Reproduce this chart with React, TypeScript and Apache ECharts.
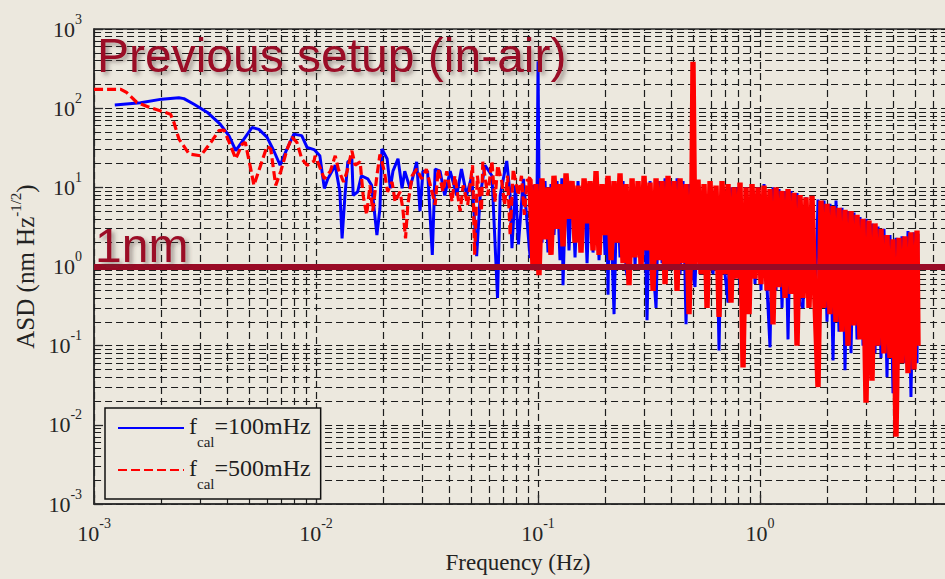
import React, { useEffect, useRef } from "react";
import * as echarts from "echarts";

// ---------- axis ranges ----------
const X_MIN = 0.001;
const X_MAX = 10;
const Y_MIN = 0.001;
const Y_MAX = 1000;
const ONE_NM = 1;

// minor grid multipliers and decades
const MINOR_MULT = [2, 3, 4, 5, 6, 7, 8, 9];
const X_DECADES = [0.001, 0.01, 0.1, 1];
const Y_DECADES = [0.001, 0.01, 0.1, 1, 10, 100];

const BLUE_NAME = "f_cal=100mHz";
const RED_NAME = "f_cal=500mHz";

// ---------- blue series (f_cal = 100 mHz) : [frequency Hz, ASD] ----------
const blueLow: [number, number][] = [
  [0.00124, 110], [0.00162, 117], [0.00202, 130], [0.00241, 135], [0.00254, 132], [0.00282, 112],
  [0.00323, 89], [0.0037, 63], [0.00405, 45], [0.00435, 29], [0.00474, 41], [0.00515, 57],
  [0.00553, 54], [0.00601, 43], [0.00645, 29], [0.00689, 19], [0.0073, 28], [0.00794, 47],
  [0.00862, 45], [0.00911, 32], [0.0098, 30], [0.0104, 25], [0.0109, 9.7], [0.0113, 12.8],
  [0.0122, 19], [0.0128, 8.8], [0.0131, 2.27], [0.0135, 7.9], [0.0139, 21], [0.0145, 23],
  [0.0147, 7.9], [0.0154, 8.8], [0.016, 14], [0.0171, 12.8], [0.0178, 10.6], [0.0188, 2.5],
  [0.0194, 5.4], [0.0198, 30.5], [0.0209, 23], [0.0216, 9.7], [0.0222, 16], [0.0234, 23],
  [0.0244, 9.7], [0.0251, 16], [0.0265, 9.7], [0.0284, 21], [0.0294, 5], [0.0303, 16],
  [0.0318, 16], [0.0334, 1.4], [0.0344, 17], [0.0362, 16], [0.038, 7.9], [0.0402, 16],
  [0.043, 7.9], [0.0452, 17], [0.0477, 7.9], [0.0503, 14], [0.0529, 1.35], [0.0549, 7.9],
  [0.0577, 19], [0.062, 14], [0.0657, 0.4], [0.0675, 7.9], [0.0723, 21.5], [0.0749, 7.9],
  [0.0763, 1.7], [0.0791, 10.6], [0.0816, 1.9], [0.0859, 12.8],
];

const blueHigh: [number, number][] = [
  [0.0922, 1.28], [0.095, 10.6], [0.099, 9], [0.1, 390], [0.101, 12], [0.1042, 2.0],
  [0.1075, 12], [0.1109, 1.5], [0.1144, 11], [0.118, 2.5], [0.1218, 12], [0.1256, 1.2],
  [0.128, 13], [0.1296, 0.58], [0.1337, 13], [0.1379, 1.6], [0.1423, 11], [0.1468, 1.3],
  [0.1514, 12], [0.1562, 2.0], [0.1612, 11], [0.1663, 1.1], [0.1715, 12], [0.1769, 1.5],
  [0.1825, 11], [0.1883, 1.2], [0.1943, 11], [0.2004, 1.4], [0.2035, 11], [0.2067, 0.44],
  [0.21, 12], [0.22, 0.25], [0.227, 11], [0.2341, 1.3], [0.2415, 12], [0.2492, 0.9],
  [0.257, 0.6], [0.2652, 11], [0.2736, 1.0], [0.2822, 12], [0.2911, 1.2], [0.3003, 13],
  [0.3098, 0.21], [0.3196, 12], [0.3297, 1.0], [0.3401, 0.3], [0.3509, 12], [0.362, 1.1],
  [0.3734, 13], [0.3852, 0.9], [0.3974, 12], [0.41, 1.0], [0.4229, 13], [0.4363, 0.8],
  [0.4501, 12], [0.4642, 0.186], [0.4789, 11], [0.494, 0.9], [0.5097, 0.55], [0.5258, 11],
  [0.5424, 0.8], [0.5595, 11], [0.5772, 0.7], [0.5955, 10.5], [0.6143, 0.8], [0.6337, 10],
  [0.6537, 0.087], [0.6744, 10.5], [0.6957, 0.8], [0.7177, 0.35], [0.7404, 10], [0.7638, 0.7],
  [0.7879, 10], [0.8128, 0.6], [0.8385, 0.15], [0.865, 10], [0.8923, 0.4], [0.9205, 10],
  [0.9495, 0.6], [0.9795, 10], [1.0104, 0.5], [1.0424, 11], [1.0753, 0.55], [1.1093, 0.095],
  [1.1444, 10], [1.1806, 0.5], [1.2179, 9.5], [1.2564, 0.3], [1.2961, 9], [1.3371, 0.12],
  [1.3793, 9], [1.4229, 0.45], [1.4678, 8.5], [1.5142, 0.35], [1.5621, 0.3], [1.6114, 7.5],
  [1.6624, 0.3], [1.7149, 7.5], [1.7691, 0.25], [1.825, 7], [1.8827, 0.3], [1.9422, 6.8],
  [2.0036, 0.2], [2.0669, 6.2], [2.1322, 0.065], [2.1996, 6.8], [2.2691, 0.15], [2.3408, 5.5],
  [2.4148, 0.049], [2.4911, 5], [2.5698, 0.08], [2.651, 4.8], [2.7348, 0.12], [2.8212, 4.2],
  [2.9104, 0.1], [3.0023, 4], [3.0972, 0.09], [3.1951, 3.5], [3.2961, 0.08], [3.4002, 3.2],
  [3.5077, 0.07], [3.6186, 3.0], [3.7329, 0.04], [3.8509, 2.5], [3.9726, 0.025], [4.0982, 2.3],
  [4.2277, 0.07], [4.3613, 2.4], [4.4991, 0.06], [4.6416, 2.8], [4.7863, 0.0225], [4.9397, 2.7],
  [5.0955, 0.06], [5.15, 2.6],
];

// ---------- red series (f_cal = 500 mHz) ----------
const redLow: [number, number][] = [
  [0.001, 173], [0.00132, 173], [0.0014, 158], [0.00156, 118], [0.00177, 103], [0.002, 92],
  [0.00221, 84], [0.00229, 66], [0.00241, 41], [0.00268, 26.4], [0.00302, 25], [0.00336, 37],
  [0.00365, 52], [0.00385, 53], [0.00413, 33], [0.00435, 23], [0.00465, 35], [0.0048, 37],
  [0.00508, 17], [0.00525, 10.6], [0.00563, 19], [0.00601, 33], [0.00625, 30.5], [0.00658, 10.6],
  [0.00694, 16], [0.0074, 30], [0.00779, 43], [0.0082, 37], [0.00862, 23], [0.00911, 19],
  [0.0098, 21.5], [0.0099, 25], [0.0104, 18], [0.0109, 12.8], [0.0116, 16], [0.0122, 25],
  [0.0126, 17], [0.0133, 11.7], [0.0138, 16], [0.0145, 29], [0.015, 19], [0.0158, 21],
  [0.0163, 7.9], [0.0169, 4.5], [0.0175, 10.6], [0.018, 5], [0.0188, 14], [0.0194, 26],
  [0.0203, 16], [0.021, 8.8], [0.022, 11.7], [0.0227, 6.6], [0.0239, 8.8], [0.0246, 5.4],
  [0.0253, 2.27], [0.0259, 6], [0.0271, 14], [0.0284, 17], [0.0299, 12.8], [0.0314, 17],
  [0.033, 9.7], [0.0344, 6], [0.0355, 17], [0.0373, 8.8], [0.0388, 16], [0.041, 6.6],
  [0.0422, 14], [0.0446, 5], [0.046, 10.6], [0.0482, 6], [0.0507, 19], [0.0518, 1.4],
  [0.0533, 14], [0.0556, 5], [0.0564, 21], [0.0593, 7.9], [0.062, 21.5], [0.0639, 6.6],
  [0.0658, 19], [0.0687, 11.7], [0.0707, 6], [0.0729, 14], [0.0749, 2.5], [0.0773, 17],
  [0.0816, 7.9], [0.0842, 14], [0.0868, 4.5], [0.0895, 12.8],
];

const redHigh: [number, number][] = [
  [0.092, 12.5], [0.095, 0.9], [0.0979, 11], [0.101, 0.78], [0.1042, 13], [0.1075, 2.2],
  [0.1109, 10], [0.1144, 1.4], [0.118, 14], [0.1218, 3.0], [0.1256, 11], [0.1296, 1.8],
  [0.1337, 15], [0.1379, 4.0], [0.1423, 12], [0.1468, 2.0], [0.1514, 10.5], [0.1562, 1.5],
  [0.1612, 13], [0.1663, 3.5], [0.1715, 12], [0.1769, 1.6], [0.1825, 16], [0.1883, 1.4],
  [0.1943, 11], [0.2004, 2.5], [0.2067, 14], [0.2133, 1.2], [0.22, 12], [0.227, 2.0],
  [0.2341, 15], [0.2415, 1.1], [0.2492, 11], [0.257, 0.58], [0.2652, 13], [0.2736, 1.3],
  [0.2822, 12], [0.2911, 1.0], [0.3003, 14], [0.3098, 1.6], [0.3196, 11.5], [0.3297, 0.49],
  [0.3401, 13], [0.3509, 1.2], [0.362, 12], [0.3734, 0.6], [0.3852, 14], [0.3974, 1.0],
  [0.41, 12], [0.4229, 0.49], [0.4363, 13], [0.4501, 1.1], [0.4642, 11], [0.4789, 0.25],
  [0.494, 12], [0.499, 385], [0.5097, 1.0], [0.5258, 12.5], [0.5424, 0.8], [0.5595, 11],
  [0.5772, 0.3], [0.5955, 12], [0.6143, 0.9], [0.6337, 10.5], [0.6537, 0.23], [0.6744, 12],
  [0.6957, 0.8], [0.7177, 11], [0.7404, 0.35], [0.7638, 10], [0.7879, 0.7], [0.8128, 11.5],
  [0.8385, 0.053], [0.865, 10], [0.8923, 0.25], [0.9205, 11], [0.9495, 0.7], [0.9795, 10],
  [1.0104, 0.6], [1.0424, 10.5], [1.0753, 0.5], [1.1093, 9.5], [1.1444, 0.185], [1.1806, 10],
  [1.2179, 0.55], [1.2564, 9], [1.2961, 0.4], [1.3371, 9.5], [1.3793, 0.45], [1.4229, 8.5],
  [1.4678, 0.1], [1.5142, 8], [1.5621, 0.4], [1.6114, 7.5], [1.6624, 0.3], [1.7149, 7.8],
  [1.7691, 0.35], [1.825, 0.03], [1.8827, 6.8], [1.9422, 0.3], [2.0036, 6.2], [2.0669, 0.25],
  [2.1322, 5.8], [2.1996, 0.2], [2.2691, 5.5], [2.3408, 0.15], [2.4148, 5.2], [2.4911, 0.1],
  [2.5698, 5], [2.651, 0.18], [2.7348, 4.5], [2.8212, 0.12], [2.9104, 4], [3.0023, 0.019],
  [3.0972, 3.8], [3.1951, 0.036], [3.2961, 3.5], [3.4002, 0.1], [3.5077, 3], [3.6186, 0.08],
  [3.7329, 2.5], [3.8509, 0.07], [3.9726, 2.2], [4.0982, 0.0071], [4.2277, 2.3], [4.3613, 0.06],
  [4.4991, 2.4], [4.6416, 0.045], [4.7863, 2.7], [4.9397, 0.05], [5.0955, 2.85], [5.15, 0.1],
];

const BG = "#ece8de";
const SERIF = "'Liberation Serif', 'DejaVu Serif', serif";
const SANS = "'Liberation Sans', Arial, sans-serif";
const DARK_RED = "#9b0b28";
const CHART_W = 1000; // plot continues past the right edge of the 945px view
const CHART_H = 579;

export default function App() {
  const ref = useRef<HTMLDivElement>(null);

  useEffect(() => {
    if (!ref.current) return;
    const chart = echarts.init(ref.current, null, { renderer: "svg" });

    const gridDash = { type: [7, 4] as number[], color: "#1c1c1c", width: 1.2, opacity: 1 };

    const minorX = X_DECADES.flatMap((d) => MINOR_MULT.map((m) => +(m * d).toPrecision(3)));
    const minorY = Y_DECADES.flatMap((d) => MINOR_MULT.map((m) => +(m * d).toPrecision(3)));
    const minorSegs = [
      ...minorX.map((v) => ({ coords: [[v, Y_MIN], [v, Y_MAX]] })),
      ...minorY.map((v) => ({ coords: [[X_MIN, v], [X_MAX, v]] })),
    ];

    const labelRich = {
      b: { fontFamily: SERIF, fontSize: 22, lineHeight: 34, color: "#252525" },
      e: { fontFamily: SERIF, fontSize: 14, lineHeight: 14, verticalAlign: "top", color: "#252525" },
    };
    const fmt = (v: number) => `{b|10}{e|${Math.round(Math.log10(v))}}`;

    const titleStyle = {
      color: DARK_RED,
      fontFamily: SANS,
      fontSize: 48,
      fontWeight: "normal",
      textShadowColor: "rgba(70,50,50,0.45)",
      textShadowBlur: 4,
      textShadowOffsetX: 3,
      textShadowOffsetY: 3,
    };

    chart.setOption({
      animation: false,
      backgroundColor: BG,
      title: [
        { text: "Previous setup (in-air)", left: 97, top: 31, padding: 0, textStyle: titleStyle },
        { text: "1nm", left: 95, top: 221, padding: 0, textStyle: titleStyle },
      ],
      grid: {
        left: 94,
        right: CHART_W - 982,
        top: 29,
        bottom: 71,
        show: true,
        borderColor: "#2a2a2a",
        borderWidth: 1.5,
        backgroundColor: "transparent",
      },
      legend: {
        data: [BLUE_NAME, RED_NAME],
        orient: "vertical",
        left: 105,
        top: 408,
        padding: [6, 10, 8, 12],
        itemGap: 7,
        itemWidth: 66,
        itemHeight: 14,
        backgroundColor: BG,
        borderColor: "#111",
        borderWidth: 1.5,
        selectedMode: false,
        itemStyle: { opacity: 0 },
        formatter: (name: string) => {
          const rest = name.replace("f_cal", "");
          return `{f|f}{s|cal}{f|${rest}}`;
        },
        textStyle: {
          rich: {
            f: { fontFamily: SERIF, fontSize: 24, lineHeight: 28, verticalAlign: "top", color: "#1e1e1e" },
            s: { fontFamily: SERIF, fontSize: 15, lineHeight: 15, padding: [20, 0, 0, 0], verticalAlign: "top", color: "#1e1e1e" },
          },
        },
      },
      xAxis: {
        type: "log",
        logBase: 10,
        min: X_MIN,
        max: X_MAX,
        name: "Frequency (Hz)",
        nameLocation: "middle",
        nameGap: 47,
        nameTextStyle: { fontFamily: SERIF, fontSize: 23, color: "#222", padding: [0, 40, 0, 0] },
        axisLine: { lineStyle: { color: "#2a2a2a", width: 1.5 } },
        axisTick: { inside: true, length: 9, lineStyle: { color: "#2a2a2a", width: 1.3 } },
        axisLabel: { formatter: fmt, rich: labelRich, margin: 12, showMinLabel: true, showMaxLabel: false },
        splitLine: { show: true, lineStyle: gridDash },
      },
      yAxis: {
        type: "log",
        logBase: 10,
        min: Y_MIN,
        max: Y_MAX,
        name: "{n|ASD (nm Hz}{s|-1/2}{n|)}",
        nameLocation: "middle",
        nameRotate: 90,
        nameGap: 48,
        nameTextStyle: {
          rich: {
            n: { fontFamily: SERIF, fontSize: 25, lineHeight: 34, color: "#222" },
            s: { fontFamily: SERIF, fontSize: 15, lineHeight: 15, verticalAlign: "top", color: "#222" },
          },
        },
        axisLine: { lineStyle: { color: "#2a2a2a", width: 1.5 } },
        axisTick: { inside: true, length: 9, lineStyle: { color: "#2a2a2a", width: 1.3 } },
        axisLabel: { formatter: fmt, rich: labelRich, margin: 12, showMinLabel: true, showMaxLabel: true },
        splitLine: { show: true, lineStyle: gridDash },
      },
      series: [
        {
          name: "minor grid",
          type: "lines",
          coordinateSystem: "cartesian2d",
          z: 1,
          silent: true,
          polyline: false,
          lineStyle: gridDash,
          data: minorSegs,
        },
        {
          name: BLUE_NAME,
          type: "line",
          z: 2,
          data: [...blueLow, ...blueHigh],
          symbol: "none",
          showSymbol: false,
          color: "#0000ff",
          lineStyle: { color: "#0000ff", width: 3 },
        },
        {
          name: RED_NAME,
          type: "line",
          z: 3,
          data: redLow,
          symbol: "none",
          showSymbol: false,
          color: "#ff0000",
          lineStyle: { color: "#ff0000", width: 3.2, type: [9, 4] },
        },
        {
          name: "red dense band",
          type: "line",
          z: 3,
          data: [redLow[redLow.length - 1], ...redHigh],
          symbol: "none",
          showSymbol: false,
          color: "#ff0000",
          lineStyle: { color: "#ff0000", width: 5.4, join: "bevel" },
          markLine: {
            silent: true,
            symbol: ["none", "none"],
            label: { show: false },
            lineStyle: { color: "#990a25", width: 6, type: "solid" },
            data: [{ yAxis: ONE_NM }],
          },
        },
      ],
    });

    return () => chart.dispose();
  }, []);

  return (
    <div style={{ position: "fixed", left: 0, top: 0, width: 945, height: CHART_H, overflow: "hidden", background: BG }}>
      <div ref={ref} style={{ width: CHART_W, height: CHART_H }} />
    </div>
  );
}
